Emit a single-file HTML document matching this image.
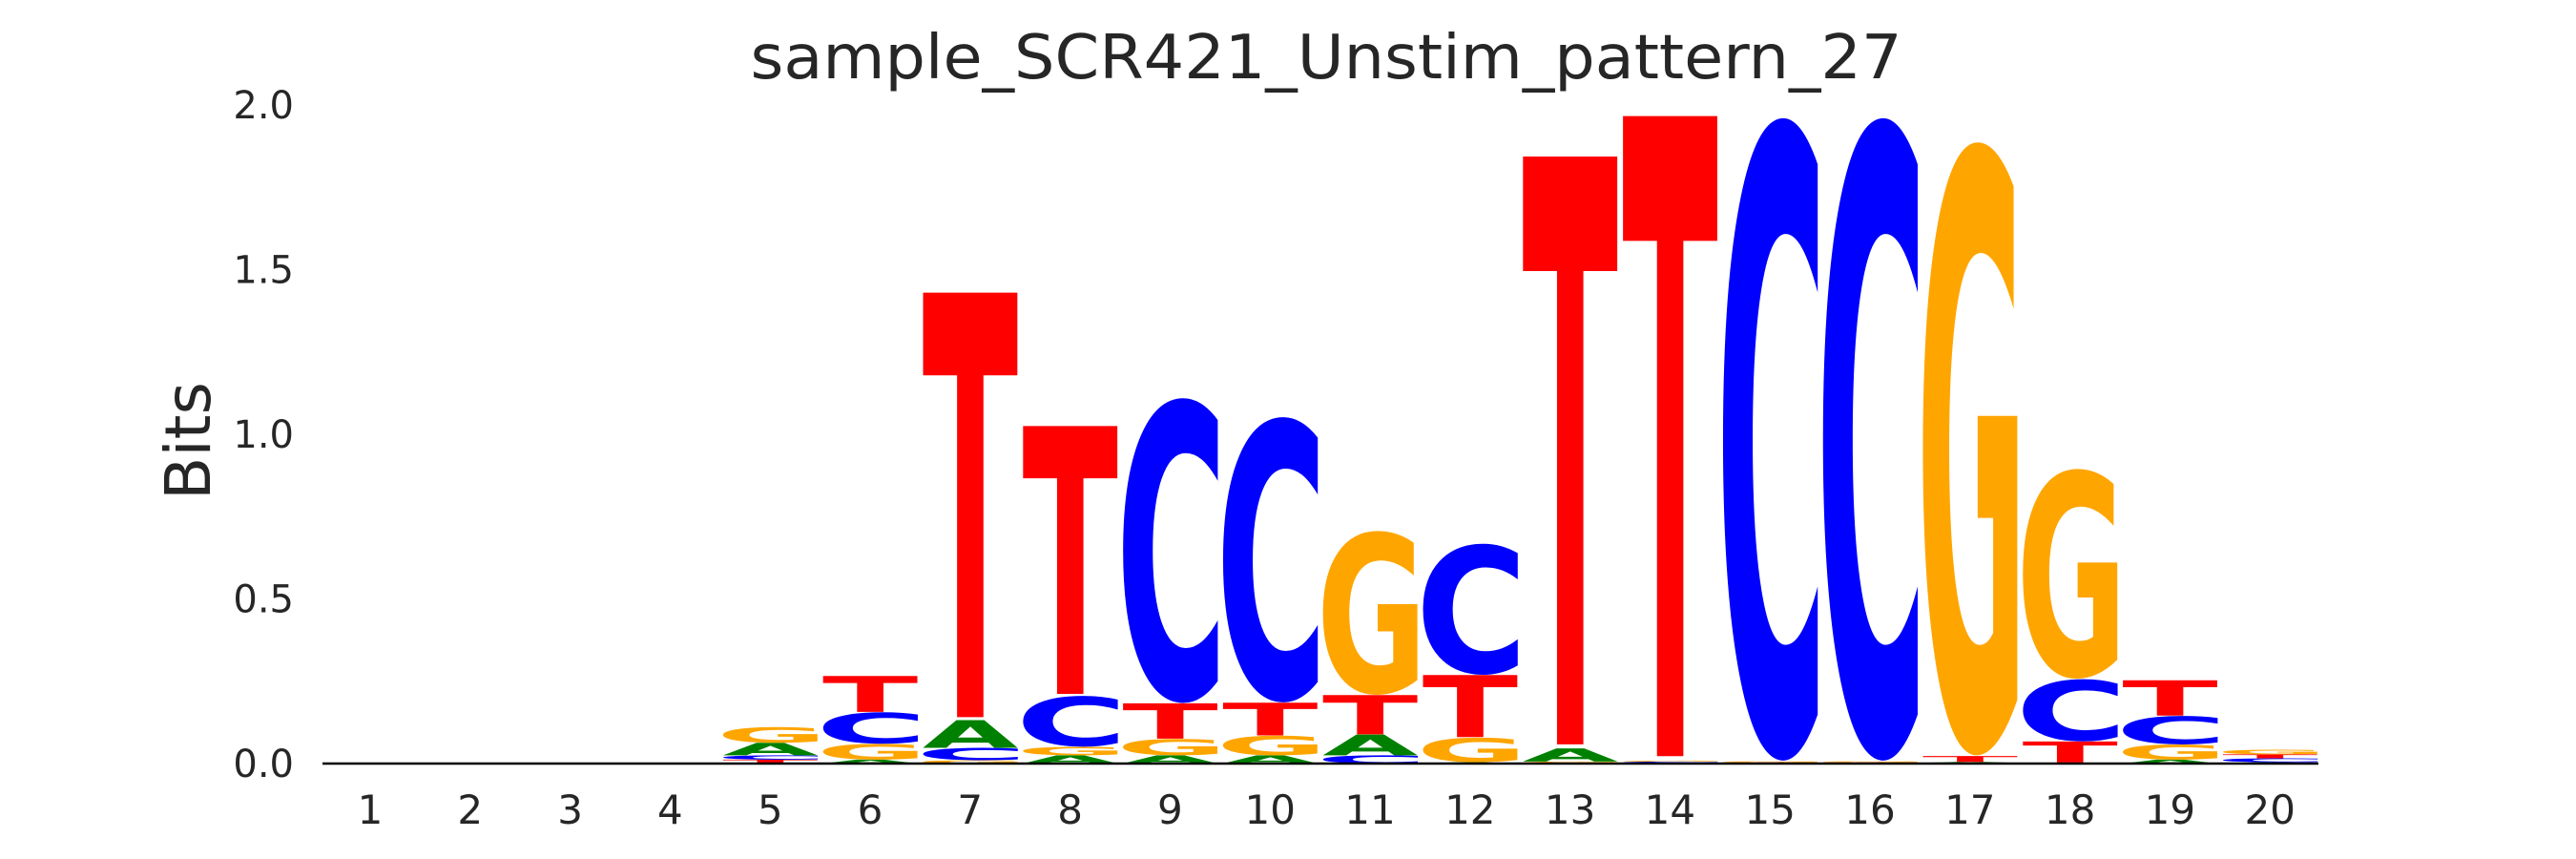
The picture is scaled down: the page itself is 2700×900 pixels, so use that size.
<!DOCTYPE html>
<html><head><meta charset="utf-8">
<style>
html,body{margin:0;padding:0;background:#fff;width:2700px;height:900px;overflow:hidden;}
svg{display:block;}
</style></head>
<body>
<svg id="chart" width="2700" height="900" viewBox="0 0 2700 900" xmlns="http://www.w3.org/2000/svg" overflow="hidden">
  <text x="1390" y="82" text-anchor="middle" font-family="DejaVu Sans, Liberation Sans, sans-serif" font-size="64" fill="#262626" textLength="1207" lengthAdjust="spacingAndGlyphs">sample_SCR421_Unstim_pattern_27</text>
  <text transform="translate(220,462) rotate(-90)" text-anchor="middle" font-family="DejaVu Sans, Liberation Sans, sans-serif" font-size="66" fill="#262626">Bits</text>
  <g id="yticks"></g>
  <g id="xticks"></g>
  <svg x="0" y="0" width="2700" height="805" overflow="hidden">
    <g id="letters"></g>
  </svg>
  <line x1="338" y1="800" x2="2430" y2="800" stroke="#000" stroke-width="2.5"/>
</svg>
<script>
const positions = [1,2,3,4,5,6,7,8,9,10,11,12,13,14,15,16,17,18,19,20];
const heightsA = [0,0,0,0,0.038,0.012,0.084,0.025,0.025,0.025,0.063,0.004,0.04,0.003,0.002,0.002,0.003,0.003,0.012,0.004];
const heightsC = [0,0,0,0,0.013,0.096,0.038,0.155,0.93,0.87,0.025,0.40,0.003,0.003,1.96,1.96,0.002,0.19,0.087,0.012];
const heightsG = [0,0,0,0,0.048,0.048,0.01,0.026,0.05,0.06,0.50,0.075,0.003,0.003,0.003,0.003,1.87,0.64,0.046,0.014];
const heightsT = [0,0,0,0,0.012,0.11,1.30,0.82,0.108,0.10,0.12,0.19,1.80,1.96,0.002,0.002,0.018,0.064,0.108,0.012];
const yTickValues = [0.0,0.5,1.0,1.5,2.0];
const yTickLabels = ["0.0","0.5","1.0","1.5","2.0"];

const NS = "http://www.w3.org/2000/svg";
const colors = {A:"#008000", C:"#0000ff", G:"#ffa500", T:"#ff0000"};
function yScale(v){ return 800 - v*345; }
function xScale(p){ return 388 + (p-1)*104.8; }
const letterWidth = 100;
const FS = 200;
const FONT = "bold " + FS + "px 'DejaVu Sans', 'Liberation Sans', sans-serif";

const cv = document.createElement('canvas');
const ctx = cv.getContext('2d');
ctx.font = FONT;
const metrics = {};
["A","C","G","T"].forEach(l=>{
  const m = ctx.measureText(l);
  metrics[l] = {L:m.actualBoundingBoxLeft, R:m.actualBoundingBoxRight, asc:m.actualBoundingBoxAscent, desc:m.actualBoundingBoxDescent};
});

const yt = document.getElementById('yticks');
yTickValues.forEach((v,i)=>{
  const t = document.createElementNS(NS,'text');
  
  
  t.setAttribute('x', 308);
  t.setAttribute('y', yScale(v)+14);
  t.setAttribute('text-anchor','end');
  t.setAttribute('font-family','DejaVu Sans, Liberation Sans, sans-serif');
  t.setAttribute('font-size','40');
  t.setAttribute('fill','#262626');
  t.textContent = yTickLabels[i];
  yt.appendChild(t);
});

const xt = document.getElementById('xticks');
positions.forEach(p=>{
  const t = document.createElementNS(NS,'text');
  
  
  t.setAttribute('x', xScale(p));
  t.setAttribute('y', 863);
  t.setAttribute('text-anchor','middle');
  t.setAttribute('font-family','DejaVu Sans, Liberation Sans, sans-serif');
  t.setAttribute('font-size','42');
  t.setAttribute('fill','#262626');
  t.textContent = String(p);
  xt.appendChild(t);
});

const lg = document.getElementById('letters');
positions.forEach((p,i)=>{
  const stack = [["A",heightsA[i]],["C",heightsC[i]],["G",heightsG[i]],["T",heightsT[i]]]
    .filter(d=>d[1]>0).sort((a,b)=>a[1]-b[1]);
  let base = 0;
  const x0 = xScale(p) - letterWidth/2;
  stack.forEach(([l,h])=>{
    const ybot = yScale(base), ytop = yScale(base+h);
    const m = metrics[l];
    const sx = letterWidth/(m.L+m.R);
    const sy = (ybot-ytop)/(m.asc+m.desc);
    const t = document.createElementNS(NS,'text');
    
    
    t.setAttribute('font-family',"DejaVu Sans, Liberation Sans, sans-serif");
    t.setAttribute('font-weight','bold');
    t.setAttribute('font-size', FS);
    t.setAttribute('fill', colors[l]);
    t.setAttribute('transform', `translate(${x0 + m.L*sx},${ybot - m.desc*sy}) scale(${sx},${sy})`);
    t.textContent = l;
    lg.appendChild(t);
    base += h;
  });
});
</script>
</body></html>
